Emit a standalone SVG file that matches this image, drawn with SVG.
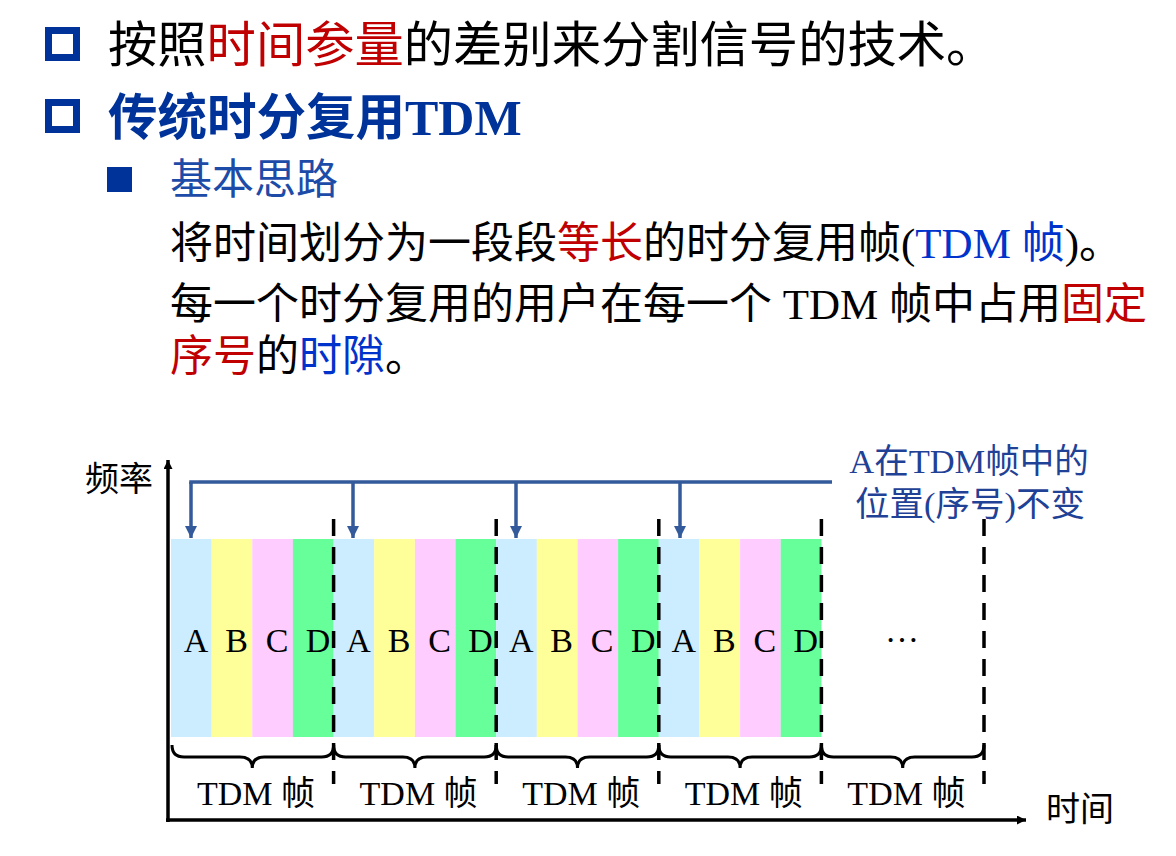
<svg xmlns="http://www.w3.org/2000/svg" width="1176" height="856" viewBox="0 0 1176 856">
<style>
.cjk{font-family:"Noto Sans CJK SC",sans-serif}
.serif{font-family:"Liberation Serif","Noto Sans CJK SC",serif}
.red{fill:#C00000}
.blue{fill:#0033CC}
.a{fill:#CCECFF}.b{fill:#FFFF99}.c{fill:#FFCCFF}.d{fill:#66FF99}
.letter{font-family:"Liberation Serif",serif;font-size:34px;text-anchor:middle;fill:#000}
.dash{stroke:#000;stroke-width:3.5;stroke-dasharray:17 11;fill:none}
.brace{stroke:#000;stroke-width:3;fill:none}
.flab{font-size:34px;text-anchor:middle;fill:#000}
.conn{stroke:#335A9A;stroke-width:3.5;fill:none}
.axis{stroke:#000;stroke-width:3.5;fill:none}
</style>
<defs>
<marker id="ah" viewBox="0 0 10 10" refX="10" refY="5" markerWidth="12" markerHeight="13" markerUnits="userSpaceOnUse" orient="auto">
<path d="M0,0 L10,5 L0,10 z" fill="#335A9A"/>
</marker>
<marker id="axh" viewBox="0 0 10 10" refX="10" refY="5" markerWidth="13" markerHeight="9" markerUnits="userSpaceOnUse" orient="auto">
<path d="M0,0 L10,5 L0,10 z" fill="#000"/>
</marker>
</defs>

<g id="title">
<rect x="48.5" y="30.5" width="28" height="27" fill="none" stroke="#003399" stroke-width="7"/>
<text x="108" y="62" class="cjk" font-size="49.3" fill="#000">按照<tspan class="red">时间参量</tspan>的差别来分割信号的技术。</text>
<rect x="48.5" y="102.5" width="28" height="27" fill="none" stroke="#003399" stroke-width="7"/>
<text x="108" y="135" font-size="49.5" font-weight="bold" fill="#003399"><tspan class="cjk">传统时分复用</tspan><tspan class="serif" font-size="50">TDM</tspan></text>
</g>

<g id="idea">
<rect x="107" y="167" width="25" height="25" fill="#003399"/>
<text x="170" y="194" class="cjk" font-size="42" fill="#1C4BA8">基本思路</text>
<text x="170" y="258" class="cjk" font-size="43" fill="#000">将时间划分为一段段<tspan class="red">等长</tspan>的时分复用帧<tspan class="serif">(</tspan><tspan class="blue"><tspan class="serif">TDM </tspan>帧</tspan><tspan class="serif">)</tspan>。</text>
<text x="170" y="319" class="cjk" font-size="43" fill="#000">每一个时分复用的用户在每一个<tspan class="serif"> TDM </tspan>帧中占用<tspan class="red">固定</tspan></text>
<text x="170" y="371" class="cjk" font-size="43" fill="#000"><tspan class="red">序号</tspan>的<tspan class="blue">时隙</tspan>。</text>
</g>

<g id="axis-labels">
<text x="85" y="491" class="cjk" font-size="34" fill="#000">频率</text>
<text x="1046" y="821" class="cjk" font-size="34" fill="#000">时间</text>
</g>

<g id="frame1">
<rect class="a" x="171" y="539" width="40.7" height="198"/>
<rect class="b" x="211.6" y="539" width="40.7" height="198"/>
<rect class="c" x="252.3" y="539" width="40.7" height="198"/>
<rect class="d" x="292.9" y="539" width="40.7" height="198"/>
<text class="letter" x="196" y="652">A</text>
<text class="letter" x="236.5" y="652">B</text>
<text class="letter" x="277" y="652">C</text>
<text class="letter" x="318" y="652">D</text>
</g>
<g id="frame2">
<rect class="a" x="333.6" y="539" width="40.7" height="198"/>
<rect class="b" x="374.2" y="539" width="40.7" height="198"/>
<rect class="c" x="414.9" y="539" width="40.7" height="198"/>
<rect class="d" x="455.5" y="539" width="40.7" height="198"/>
<text class="letter" x="358.6" y="652">A</text>
<text class="letter" x="399.1" y="652">B</text>
<text class="letter" x="439.6" y="652">C</text>
<text class="letter" x="480.6" y="652">D</text>
</g>
<g id="frame3">
<rect class="a" x="496.2" y="539" width="40.7" height="198"/>
<rect class="b" x="536.8" y="539" width="40.7" height="198"/>
<rect class="c" x="577.5" y="539" width="40.7" height="198"/>
<rect class="d" x="618.1" y="539" width="40.7" height="198"/>
<text class="letter" x="521.2" y="652">A</text>
<text class="letter" x="561.7" y="652">B</text>
<text class="letter" x="602.2" y="652">C</text>
<text class="letter" x="643.2" y="652">D</text>
</g>
<g id="frame4">
<rect class="a" x="658.8" y="539" width="40.7" height="198"/>
<rect class="b" x="699.4" y="539" width="40.7" height="198"/>
<rect class="c" x="740.1" y="539" width="40.7" height="198"/>
<rect class="d" x="780.7" y="539" width="40.7" height="198"/>
<text class="letter" x="683.8" y="652">A</text>
<text class="letter" x="724.3" y="652">B</text>
<text class="letter" x="764.8" y="652">C</text>
<text class="letter" x="805.8" y="652">D</text>
</g>
<g id="frame5">
<text class="letter" x="902" y="642" font-size="36">…</text>
</g>

<g id="frame-dividers">
<line class="dash" x1="333.6" y1="519" x2="333.6" y2="784"/>
<line class="dash" x1="496.2" y1="519" x2="496.2" y2="784"/>
<line class="dash" x1="658.8" y1="519" x2="658.8" y2="784"/>
<line class="dash" x1="821.4" y1="519" x2="821.4" y2="784"/>
<line class="dash" x1="984" y1="519" x2="984" y2="784"/>
</g>

<g id="braces">
<path class="brace" d="M172,745 Q172,757 184,757 L240,757 Q252.3,757 252.3,768 Q252.3,757 264.6,757 L321.6,757 Q333.6,757 333.6,745"/>
<path class="brace" d="M333.6,745 Q333.6,757 345.6,757 L402.9,757 Q414.9,757 414.9,768 Q414.9,757 426.9,757 L484.2,757 Q496.2,757 496.2,745"/>
<path class="brace" d="M496.2,745 Q496.2,757 508.2,757 L565.5,757 Q577.5,757 577.5,768 Q577.5,757 589.5,757 L646.8,757 Q658.8,757 658.8,745"/>
<path class="brace" d="M658.8,745 Q658.8,757 670.8,757 L728.1,757 Q740.1,757 740.1,768 Q740.1,757 752.1,757 L809.4,757 Q821.4,757 821.4,745"/>
<path class="brace" d="M821.4,745 Q821.4,757 833.4,757 L890.7,757 Q902.7,757 902.7,768 Q902.7,757 914.7,757 L972,757 Q984,757 984,745"/>
</g>

<g id="frame-labels">
<text class="flab serif" x="256" y="805">TDM 帧</text>
<text class="flab serif" x="418.6" y="805">TDM 帧</text>
<text class="flab serif" x="581.2" y="805">TDM 帧</text>
<text class="flab serif" x="743.8" y="805">TDM 帧</text>
<text class="flab serif" x="906.4" y="805">TDM 帧</text>
</g>

<g id="note">
<text x="969" y="473" font-size="34.5" text-anchor="middle" fill="#1F4196"><tspan class="serif">A</tspan><tspan class="cjk">在</tspan><tspan class="serif">TDM</tspan><tspan class="cjk">帧中的</tspan></text>
<text x="970" y="516" font-size="34.5" text-anchor="middle" fill="#1F4196"><tspan class="cjk">位置</tspan><tspan class="serif">(</tspan><tspan class="cjk">序号</tspan><tspan class="serif">)</tspan><tspan class="cjk">不变</tspan></text>
</g>

<g id="connectors">
<path class="conn" d="M191,484 L191,482 L832,482"/>
<path class="conn" d="M191,482 L191,538" marker-end="url(#ah)"/>
<path class="conn" d="M353,482 L353,538" marker-end="url(#ah)"/>
<path class="conn" d="M516,482 L516,538" marker-end="url(#ah)"/>
<path class="conn" d="M680,482 L680,538" marker-end="url(#ah)"/>
<path class="axis" d="M168,822 L168,460" marker-end="url(#axh)"/>
<path class="axis" d="M166,820 L1026,820" marker-end="url(#axh)"/>
</g>
</svg>
